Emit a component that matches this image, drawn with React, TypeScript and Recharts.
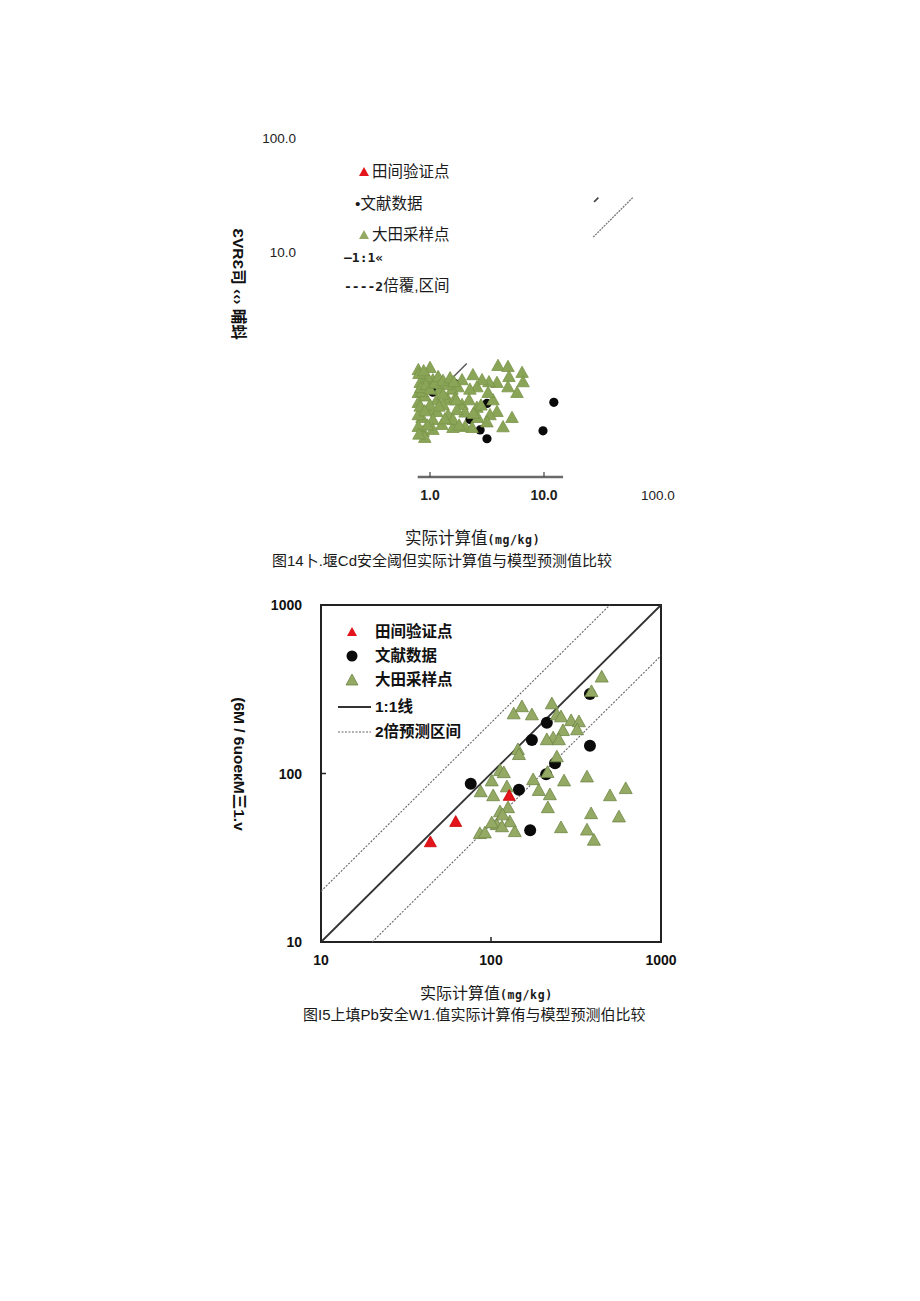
import React from 'react'
import {
  ScatterChart,
  Scatter,
  XAxis,
  YAxis,
  ReferenceLine,
  ReferenceArea,
  Legend
} from 'recharts'

const CJK = '"Noto Sans CJK SC", sans-serif'
const SANS = '"Liberation Sans", Arial, "Noto Sans CJK SC", sans-serif'
const MONO = '"DejaVu Sans Mono", monospace'

const GREEN = '#93a964'
const GREEN_EDGE = '#6e8745'
const RED = '#e3141c'

// 图14 Cd (top figure, mostly lost in the scan)
const cdLitCalc = [12.2, 9.8, 3.16, 3.16, 2.75, 1.06, 1.66, 2.24]
const cdLitPred = [0.48, 0.27, 0.23, 0.47, 0.275, 0.59, 0.7, 0.34]
const cdPaddyCalc = [
  3.95, 4.83, 4.93, 6.42, 6.55, 5.8, 4.83, 3.87, 3.29, 2.86, 2.38, 2.58, 2.24,
  1.91, 1.76, 1.56, 1.41, 1.22, 1.06, 0.94, 0.82, 0.79, 0.9, 1.15, 1.44, 1.91,
  2.58, 3.57, 3.23, 3.87, 3.36, 5.24, 4.37, 3.16, 2.63, 2.03, 1.72, 1.44, 1.15,
  0.96, 0.85, 1.06, 1.27, 1.59, 2.03, 2.34, 0.87, 1.06, 0.9, 0.79, 0.79, 1.3,
  1.59, 0.85, 0.79, 1.0, 1.66, 0.79, 0.8, 0.88, 0.83, 0.92, 1.0, 1.1, 1.18,
  1.3, 1.5, 1.62, 1.3, 1.0, 0.82, 0.9, 1.2, 1.7, 2.2, 2.8, 2.4, 1.35, 0.95,
  1.8, 0.8
]
const cdPaddyPred = [
  1.0, 0.98, 0.8, 0.87, 0.72, 0.58, 0.65, 0.71, 0.72, 0.75, 0.83, 0.65, 0.62,
  0.75, 0.65, 0.62, 0.68, 0.62, 0.75, 0.8, 0.71, 0.58, 0.54, 0.5, 0.5, 0.455,
  0.43, 0.5, 0.58, 0.395, 0.37, 0.35, 0.29, 0.32, 0.35, 0.39, 0.41, 0.37, 0.395,
  0.41, 0.35, 0.336, 0.304, 0.286, 0.292, 0.286, 0.264, 0.275, 0.234, 0.292,
  0.474, 0.455, 0.336, 0.59, 0.92, 0.96, 0.52, 0.37, 0.85, 0.9, 0.64, 0.68,
  0.62, 0.7, 0.8, 0.74, 0.78, 0.72, 0.56, 0.45, 0.44, 0.4, 0.44, 0.5, 0.5,
  0.45, 0.38, 0.34, 0.3, 0.3, 0.25
]
const cdXTicks = [1, 10, 100]
const cdXTickLabels = ['1.0', '10.0', '100.0']
const cdYTicks = [10, 100]
const cdYTickLabels = ['10.0', '100.0']

// 图15 Pb
const pbFieldCalc = [44, 62, 128]
const pbFieldPred = [39, 51.5, 73.5]
const pbLitCalc = [76, 146, 170, 174, 213, 238, 211, 382, 382]
const pbLitPred = [87, 80, 46, 158, 200, 115, 99, 296, 146]
const pbPaddyCalc = [
  448, 390, 136, 152, 174, 228, 244, 258, 296, 329, 321, 265, 232, 213, 251,
  144, 146, 244, 113, 119, 101, 177, 215, 367, 269, 87, 103, 124, 191, 222, 216,
  501, 620, 388, 566, 367, 403, 258, 138, 113, 126, 129, 108, 101, 86, 92, 117,
  116
]
const pbPaddyPred = [
  372, 305, 225, 248, 222, 258, 222, 216, 205, 202, 181, 179, 162, 158, 158,
  138, 129, 125, 103.5, 100.7, 90, 91.5, 101, 95, 90, 77.6, 73.5, 83, 79, 74.5,
  62.4, 73.5, 81, 57.5, 55, 46, 40, 47.5, 45, 59, 62.4, 51.5, 49.5, 50.7, 43.8,
  44.2, 56.6, 48.1
]
const pbTicks = [10, 100, 1000]
const pbSeriesNames = ['田间验证点', '文献数据', '大田采样点', '1:1线', '2倍预测区间']

const pts = (xs: number[], ys: number[]) => xs.map((x, i) => ({ x, y: ys[i] }))

const triangle = (size: number, fill: string, stroke: string) => (p: any) => {
  const { cx, cy } = p
  if (cx == null || cy == null) return <g />
  const h = size * 0.9
  return (
    <polygon
      points={`${cx},${cy - h * 0.6} ${cx - size / 2},${cy + h * 0.4} ${cx + size / 2},${cy + h * 0.4}`}
      fill={fill}
      stroke={stroke}
      strokeWidth={0.8}
    />
  )
}

const dot = (r: number) => (p: any) => {
  const { cx, cy } = p
  if (cx == null || cy == null) return <g />
  return <circle cx={cx} cy={cy} r={r} fill="#0a0a0a" />
}

const CdXTick = (p: any) => {
  const { x, y, payload } = p
  const i = cdXTicks.indexOf(payload.value)
  const last = i === cdXTicks.length - 1
  return (
    <g>
      {!last && <line x1={x} y1={y - 3} x2={x} y2={y - 8} stroke="#444" strokeWidth={1.2} />}
      <text
        x={x}
        y={y + 15}
        textAnchor="middle"
        dominantBaseline="central"
        fontFamily={SANS}
        fontWeight={last ? 400 : 700}
        fontSize={last ? 13.5 : 14}
        fill="#222"
      >
        {cdXTickLabels[i]}
      </text>
    </g>
  )
}

const CdYTick = (p: any) => {
  const { x, y, payload } = p
  const i = cdYTicks.indexOf(payload.value)
  return (
    <text x={x - 20} y={y} textAnchor="end" dominantBaseline="central" fontFamily={SANS} fontSize={13.5} fill="#222">
      {cdYTickLabels[i]}
    </text>
  )
}

const PbXTick = (p: any) => {
  const { x, y, payload } = p
  return (
    <g>
      <line x1={x} y1={y} x2={x} y2={y - 5} stroke="#222" strokeWidth={1.5} />
      <text x={x} y={y + 18} textAnchor="middle" dominantBaseline="central" fontFamily={SANS} fontWeight={700} fontSize={14} fill="#111">
        {payload.value}
      </text>
    </g>
  )
}

const PbYTick = (p: any) => {
  const { x, y, payload } = p
  return (
    <g>
      <line x1={x} y1={y} x2={x + 5} y2={y} stroke="#222" strokeWidth={1.5} />
      <text x={x - 19} y={y} textAnchor="end" dominantBaseline="central" fontFamily={SANS} fontWeight={700} fontSize={14} fill="#111">
        {payload.value}
      </text>
    </g>
  )
}

const row = (top: number, left: number): React.CSSProperties => ({
  position: 'absolute',
  left,
  top: top - 10,
  height: 20,
  lineHeight: '20px',
  whiteSpace: 'nowrap'
})

const CdLegend = () => (
  <div style={{ position: 'relative', width: 200, height: 160, fontFamily: SANS, fontSize: 15.5, color: '#1a1a1a' }}>
    <svg style={{ position: 'absolute', left: 18, top: 16 }} width={12} height={12}>
      <polygon points="6,1 11,10 1,10" fill={RED} />
    </svg>
    <div style={row(22, 32)}>田间验证点</div>
    <div style={row(54, 15)}>•文献数据</div>
    <svg style={{ position: 'absolute', left: 18, top: 79 }} width={12} height={12}>
      <polygon points="6,1 11,10 1,10" fill={GREEN} />
    </svg>
    <div style={row(85, 32)}>大田采样点</div>
    <div style={row(107, 4)}>
      <span style={{ fontFamily: MONO, fontWeight: 700, fontSize: 13 }}>—1:1«</span>
    </div>
    <div style={row(136, 4)}>
      <span style={{ fontFamily: MONO, fontWeight: 700, fontSize: 13 }}>----2</span>倍覆,区间
    </div>
  </div>
)

const PbLegend = () => (
  <div style={{ position: 'relative', width: 200, height: 160, fontFamily: SANS, fontWeight: 700, fontSize: 15.5, color: '#111' }}>
    <svg style={{ position: 'absolute', left: 16, top: 11 }} width={12} height={12}>
      <polygon points="6,1 11,10 1,10" fill={RED} />
    </svg>
    <div style={row(17, 45)}>{pbSeriesNames[0]}</div>
    <svg style={{ position: 'absolute', left: 16, top: 35 }} width={12} height={12}>
      <circle cx={6} cy={6} r={5.5} fill="#0a0a0a" />
    </svg>
    <div style={row(41, 45)}>{pbSeriesNames[1]}</div>
    <svg style={{ position: 'absolute', left: 15, top: 58 }} width={14} height={14}>
      <polygon points="7,1 13,12 1,12" fill={GREEN} stroke={GREEN_EDGE} strokeWidth={0.8} />
    </svg>
    <div style={row(65, 45)}>{pbSeriesNames[2]}</div>
    <svg style={{ position: 'absolute', left: 8, top: 90 }} width={34} height={4}>
      <line x1={0} y1={2} x2={33} y2={2} stroke="#333" strokeWidth={1.8} />
    </svg>
    <div style={row(92, 45)}>{pbSeriesNames[3]}</div>
    <svg style={{ position: 'absolute', left: 8, top: 115 }} width={34} height={4}>
      <line x1={0} y1={2} x2={33} y2={2} stroke="#666" strokeWidth={1.1} strokeDasharray="2 1.5" />
    </svg>
    <div style={row(117, 45)}>{pbSeriesNames[4]}</div>
  </div>
)

const vTitle = (cx: number, cy: number): React.CSSProperties => ({
  position: 'absolute',
  left: cx,
  top: cy,
  transform: 'translate(-50%, -50%) rotate(90deg)',
  whiteSpace: 'nowrap',
  fontFamily: SANS,
  fontWeight: 700,
  fontSize: 15.5,
  color: '#111'
})

const textRow = (left: number, cy: number, size: number): React.CSSProperties => ({
  position: 'absolute',
  left,
  top: cy - 17,
  height: 18,
  lineHeight: '18px',
  whiteSpace: 'nowrap',
  fontFamily: SANS,
  fontSize: size,
  color: '#1a1a1a'
})

const unit = <span style={{ fontFamily: MONO, fontWeight: 700, fontSize: 11.5, letterSpacing: 0.6 }}>(mg/kg)</span>

const App: React.FC = () => {
  return (
    <div style={{ position: 'relative', width: 904, height: 1285, background: '#fff' }}>
      {/* 图14 */}
      <div style={{ position: 'absolute', left: 222, top: 112 }}>
        <ScatterChart width={460} height={420} margin={{ top: 18, right: 32, bottom: 0, left: 0 }}>
          <XAxis
            type="number"
            dataKey="x"
            scale="log"
            domain={[0.1, 100]}
            allowDataOverflow
            ticks={cdXTicks}
            interval={0}
            axisLine={false}
            tickLine={false}
            tickSize={0}
            tickMargin={0}
            height={60}
            tick={CdXTick}
          />
          <YAxis
            type="number"
            dataKey="y"
            scale="log"
            domain={[0.1, 100]}
            allowDataOverflow
            ticks={cdYTicks}
            interval={0}
            axisLine={false}
            tickLine={false}
            tickSize={0}
            tickMargin={0}
            width={86}
            tick={CdYTick}
          />
          <ReferenceLine segment={[{ x: 0.78, y: 0.106 }, { x: 14.7, y: 0.106 }]} stroke="#6a6a6a" strokeWidth={2.5} />
          <ReferenceLine segment={[{ x: 0.78, y: 0.78 }, { x: 0.97, y: 0.97 }]} stroke="#555" strokeWidth={1.6} />
          <ReferenceLine segment={[{ x: 1.3, y: 0.65 }, { x: 2.1, y: 1.05 }]} stroke="#555" strokeWidth={1.4} />
          <ReferenceLine segment={[{ x: 27.5, y: 27.5 }, { x: 30, y: 30 }]} stroke="#444" strokeWidth={1.6} />
          <ReferenceLine segment={[{ x: 27, y: 13.5 }, { x: 60, y: 30 }]} stroke="#777" strokeWidth={1.3} strokeDasharray="2 1" />
          <Scatter data={pts(cdLitCalc, cdLitPred)} shape={dot(4.6)} isAnimationActive={false} />
          <Scatter data={pts(cdPaddyCalc, cdPaddyPred)} shape={triangle(12.5, '#8aa557', '#7a9449')} isAnimationActive={false} />
          <Legend
            layout="vertical"
            align="center"
            verticalAlign="middle"
            content={CdLegend}
            wrapperStyle={{ left: 110, top: 30, width: 200, height: 160 }}
          />
        </ScatterChart>
      </div>
      <div style={vTitle(232, 276)}>ƐVRƐ司 ‹‹› 晡蚪</div>
      <div style={textRow(397, 537, 16.5)}>
        <span style={{ fontFamily: CJK }}>实际计算值</span>
        {unit}
      </div>
      <div style={textRow(264, 561, 15)}>图14卜.堰Cd安全阈但实际计算值与模型预测值比较</div>

      {/* 图15 */}
      <div style={{ position: 'absolute', left: 212, top: 582 }}>
        <ScatterChart width={460} height={400} margin={{ top: 15, right: 19, bottom: 0, left: 0 }}>
          <XAxis
            type="number"
            dataKey="x"
            scale="log"
            domain={[10, 1000]}
            allowDataOverflow
            ticks={pbTicks}
            interval={0}
            axisLine={false}
            tickLine={false}
            tickSize={0}
            tickMargin={0}
            height={48}
            tick={PbXTick}
          />
          <YAxis
            type="number"
            dataKey="y"
            scale="log"
            domain={[10, 1000]}
            allowDataOverflow
            ticks={pbTicks}
            interval={0}
            axisLine={false}
            tickLine={false}
            tickSize={0}
            tickMargin={0}
            width={101}
            tick={PbYTick}
          />
          <ReferenceArea x1={10} x2={1000} y1={10} y2={1000} fill="none" stroke="#222" strokeWidth={2} />
          <ReferenceLine segment={[{ x: 10, y: 10 }, { x: 1000, y: 1000 }]} stroke="#333" strokeWidth={1.8} />
          <ReferenceLine segment={[{ x: 10, y: 20 }, { x: 500, y: 1000 }]} stroke="#666" strokeWidth={1.1} strokeDasharray="2 1.5" />
          <ReferenceLine segment={[{ x: 20, y: 10 }, { x: 1000, y: 500 }]} stroke="#666" strokeWidth={1.1} strokeDasharray="2 1.5" />
          <Scatter data={pts(pbLitCalc, pbLitPred)} shape={dot(6)} isAnimationActive={false} />
          <Scatter data={pts(pbPaddyCalc, pbPaddyPred)} shape={triangle(13, GREEN, GREEN_EDGE)} isAnimationActive={false} />
          <Scatter data={pts(pbFieldCalc, pbFieldPred)} shape={triangle(12, RED, '#c00')} isAnimationActive={false} />
          <Legend
            layout="vertical"
            align="center"
            verticalAlign="middle"
            content={PbLegend}
            wrapperStyle={{ left: 110, top: 25, width: 200, height: 160 }}
          />
        </ScatterChart>
      </div>
      <div style={vTitle(233, 756)}>(6M / 6uoeкM三1.v</div>
      <div style={textRow(412, 992, 16)}>
        <span style={{ fontFamily: CJK }}>实际计算值</span>
        {unit}
      </div>
      <div style={textRow(295, 1015, 15)}>图I5上填Pb安全W1.值实际计算侑与模型预测伯比较</div>
    </div>
  )
}

export default App
